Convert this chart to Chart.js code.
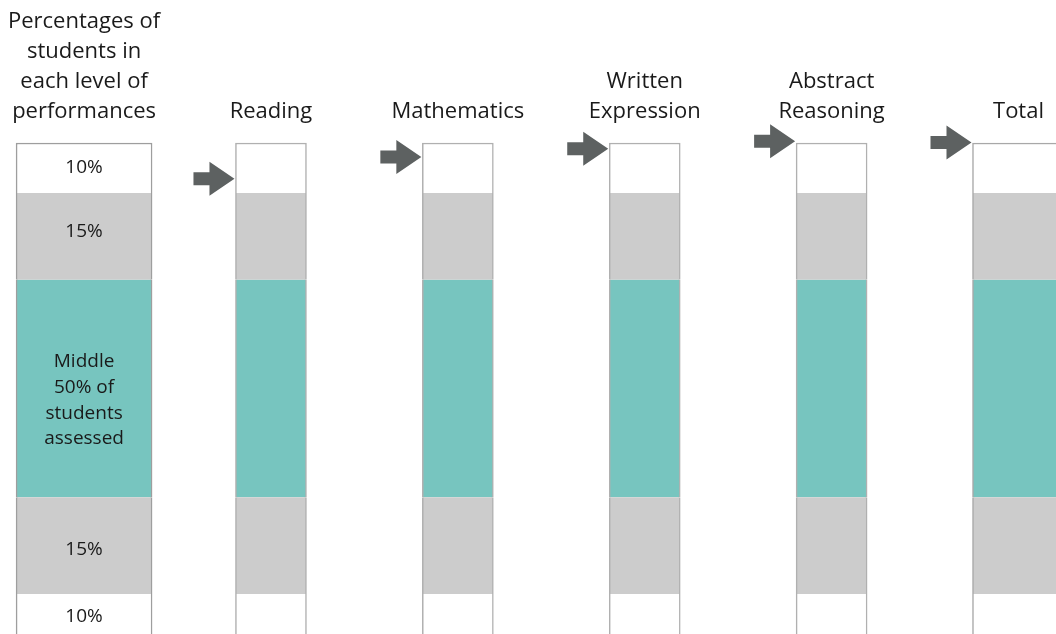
<!DOCTYPE html>
<html>
<head>
<meta charset="utf-8">
<script src="https://cdn.jsdelivr.net/npm/chart.js@4.4.1/dist/chart.umd.min.js"></script>
<style>
  html, body { margin: 0; padding: 0; background: #fff; }
  #wrap { width: 1056px; height: 634px; position: relative; }
</style>
</head>
<body>
<div id="wrap"><canvas id="chart"></canvas></div>
<script>
// column titles (first column is the key)
const columnTitles = [
  ["Percentages of", "students in", "each level of", "performances"],
  ["Reading"],
  ["Mathematics"],
  ["Written", "Expression"],
  ["Abstract", "Reasoning"],
  ["Total"],
];

// bands from bottom to top, heights as drawn
const bandNames = ["bottom10", "bottom15", "middle50", "top15", "top10"];
const bandHeights = [10.6, 22.3, 50, 20, 11.5];
const bandColors = ["#ffffff", "#cccccc", "#77c5bf", "#cccccc", "#ffffff"];
const bandLabels = [["10%"], ["15%"], ["Middle", "50% of", "students", "assessed"], ["15%"], ["10%"]];

// where each subject's arrow points
const arrowSubjects = ["Reading", "Mathematics", "Written Expression", "Abstract Reasoning", "Total"];
const arrowValues = [106.2, 111.2, 113.1, 114.8, 114.5];

const Y_MIN = 1.4;
const Y_MAX = bandHeights.reduce((a, b) => a + b, 0);

// column groups: key column, subjects, total
const groups = [
  { name: "key", cols: [0], thickness: 136, border: "#9e9e9e" },
  { name: "subjects", cols: [1, 2, 3, 4], thickness: 71, border: "#b0b0b0" },
  { name: "total", cols: [5], thickness: 92, border: "#a8a8a8" },
];

const datasets = [];
groups.forEach((g) => {
  bandHeights.forEach((h, b) => {
    const isTop = b === bandHeights.length - 1;
    datasets.push({
      label: g.name + "-" + bandNames[b],
      group: g.name,
      band: b,
      data: columnTitles.map((_, i) => (g.cols.includes(i) ? h : null)),
      backgroundColor: bandColors[b],
      borderColor: g.border,
      borderWidth: { left: 1.5, right: 1.5, top: isTop ? 1.5 : 0, bottom: 0 },
      borderSkipped: false,
      barThickness: g.thickness,
      stack: "all",
      clip: false,
    });
  });
});

const drawExtras = {
  id: "drawExtras",
  afterDatasetsDraw(chart) {
    const ctx = chart.ctx;
    const y = chart.scales.y;

    // band labels in the key column
    ctx.save();
    ctx.fillStyle = "#1a1a1a";
    ctx.font = "19px 'Open Sans', sans-serif";
    ctx.textAlign = "center";
    ctx.textBaseline = "middle";
    chart.data.datasets.forEach((ds, di) => {
      if (ds.group !== "key") return;
      const el = chart.getDatasetMeta(di).data[0];
      const lines = bandLabels[ds.band];
      const lh = 25.7;
      let cy = (el.y + el.base) / 2;
      if (lines.length > 1) cy += 12;
      if (ds.band === 3) cy -= 5;
      if (ds.band === 1) cy += 4;
      lines.forEach((t, k) => {
        ctx.fillText(t, el.x, cy + (k - (lines.length - 1) / 2) * lh);
      });
    });
    ctx.restore();

    // arrows pointing at each subject column
    const topIdx = chart.data.datasets.findIndex((d) => d.group === "subjects");
    const totIdx = chart.data.datasets.findIndex((d) => d.group === "total");
    ctx.save();
    ctx.fillStyle = "#5d6161";
    arrowValues.forEach((v, k) => {
      const col = k + 1;
      const di = col === 5 ? totIdx : topIdx;
      const el = chart.getDatasetMeta(di).data[col];
      const tipX = el.x - el.width / 2 - 1;
      const cy = y.getPixelForValue(v);
      const w = 41, hh = 17, sh = 6.5, head = 25;
      ctx.beginPath();
      ctx.moveTo(tipX, cy);
      ctx.lineTo(tipX - head, cy - hh);
      ctx.lineTo(tipX - head, cy - sh);
      ctx.lineTo(tipX - w, cy - sh);
      ctx.lineTo(tipX - w, cy + sh);
      ctx.lineTo(tipX - head, cy + sh);
      ctx.lineTo(tipX - head, cy + hh);
      ctx.closePath();
      ctx.fill();
    });
    ctx.restore();
  },
};

new Chart(document.getElementById("chart"), {
  type: "bar",
  data: { labels: columnTitles, datasets },
  options: {
    responsive: true,
    maintainAspectRatio: false,
    animation: false,
    layout: { padding: { left: 79.5, right: 37.5, top: -1, bottom: 0 } },
    plugins: { legend: { display: false }, tooltip: { enabled: false } },
    scales: {
      x: {
        position: "top",
        offset: false,
        stacked: true,
        grid: { display: false },
        border: { display: false },
        ticks: {
          autoSkip: false,
          maxRotation: 0,
          padding: 8,
          color: "#1a1a1a",
          font: { family: "'Open Sans', sans-serif", size: 22, lineHeight: "30px" },
        },
      },
      y: {
        display: false,
        stacked: true,
        min: Y_MIN,
        max: Y_MAX,
      },
    },
  },
  plugins: [drawExtras],
});
</script>
</body>
</html>
